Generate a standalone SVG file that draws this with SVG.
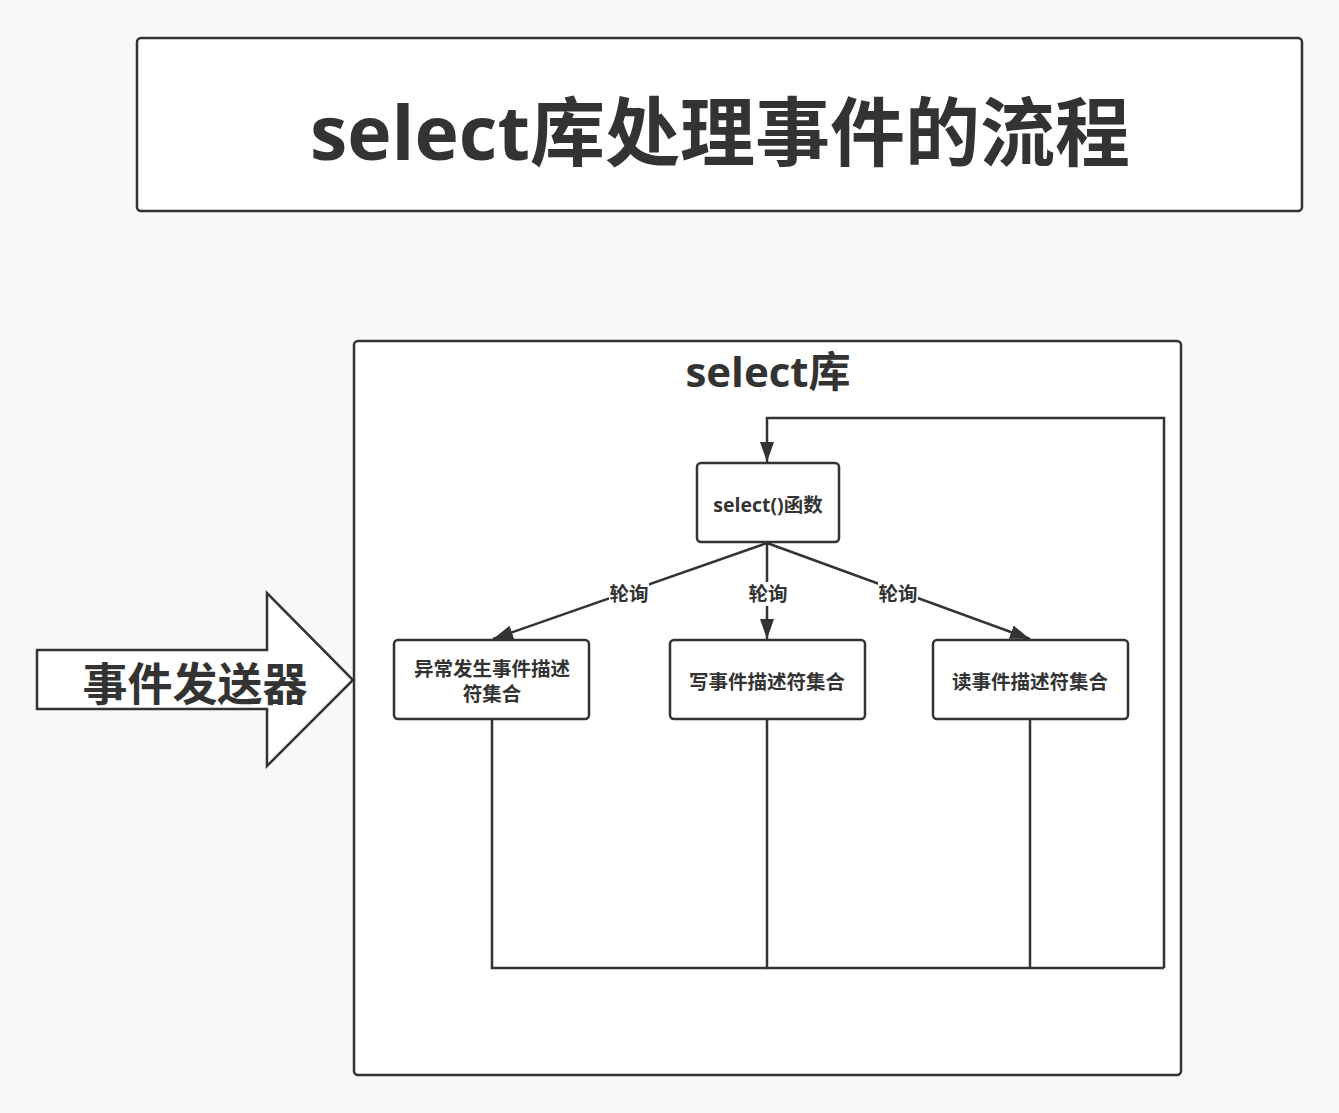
<svg xmlns="http://www.w3.org/2000/svg" width="1339" height="1113" viewBox="0 0 1339 1113">
<style>
.t{font-family:"Open Sans","Noto Sans CJK SC",sans-serif;font-weight:bold;fill:#333;text-anchor:middle}
.box{fill:#fff;stroke:#333;stroke-width:2.5}
.ln{fill:none;stroke:#333;stroke-width:2.5}
.lbl{font-family:"Open Sans","Noto Sans CJK SC",sans-serif;font-weight:bold;fill:#333;text-anchor:middle;font-size:19.5px}
</style>
<defs>
<marker id="arr" viewBox="0 0 20 20" refX="20" refY="10" markerWidth="20" markerHeight="20" orient="auto" markerUnits="userSpaceOnUse">
<path d="M0,3 L20,10 L0,17 Z" fill="#333"/>
</marker>
</defs>
<rect width="1339" height="1113" fill="#f8f8f8"/>
<g id="title">
<rect class="box" x="137" y="38" width="1165" height="173" rx="4"/>
<text class="t" x="720" y="160" font-size="75">select库处理事件的流程</text>
</g>
<g id="select-lib">
<rect class="box" x="354" y="341" width="827" height="734" rx="4"/>
<text class="t" x="768" y="387" font-size="42">select库</text>
</g>
<g id="sender">
<polygon points="37,650 267,650 267,593 353,680 267,766 267,709 37,709" fill="#fff" stroke="#333" stroke-width="2.5"/>
<text class="t" x="195" y="701" font-size="45">事件发送器</text>
</g>
<g id="connectors">
<polyline class="ln" points="1164,968 1164,418 767,418 767,462" stroke-width="3.5" marker-end="url(#arr)"/>
<line class="ln" x1="767" y1="543" x2="493" y2="639" marker-end="url(#arr)"/>
<line class="ln" x1="767" y1="543" x2="767" y2="639" marker-end="url(#arr)"/>
<line class="ln" x1="767" y1="543" x2="1030" y2="639" marker-end="url(#arr)"/>
<polyline class="ln" points="492,719 492,968 767,968"/>
<polyline class="ln" points="767,719 767,968 1164,968" stroke-width="3.5"/>
<line class="ln" x1="1030" y1="719" x2="1030" y2="968"/>
<rect x="609" y="582" width="40" height="24" fill="#fff"/>
<text class="lbl" x="629" y="601" font-size="19">轮询</text>
<rect x="748" y="582" width="40" height="24" fill="#fff"/>
<text class="lbl" x="768" y="601" font-size="19">轮询</text>
<rect x="878" y="582" width="40" height="24" fill="#fff"/>
<text class="lbl" x="898" y="601" font-size="19">轮询</text>
</g>
<g id="select-func">
<rect class="box" x="697" y="463" width="142" height="79" rx="4"/>
<text class="lbl" x="768" y="512">select()函数</text>
</g>
<g id="except-set">
<rect class="box" x="394" y="640" width="195" height="79" rx="4"/>
<text class="lbl" x="492" y="676" font-size="19">异常发生事件描述</text>
<text class="lbl" x="492" y="701" font-size="19">符集合</text>
</g>
<g id="write-set">
<rect class="box" x="670" y="640" width="195" height="79" rx="4"/>
<text class="lbl" x="767" y="689">写事件描述符集合</text>
</g>
<g id="read-set">
<rect class="box" x="933" y="640" width="195" height="79" rx="4"/>
<text class="lbl" x="1030" y="689">读事件描述符集合</text>
</g>
</svg>
